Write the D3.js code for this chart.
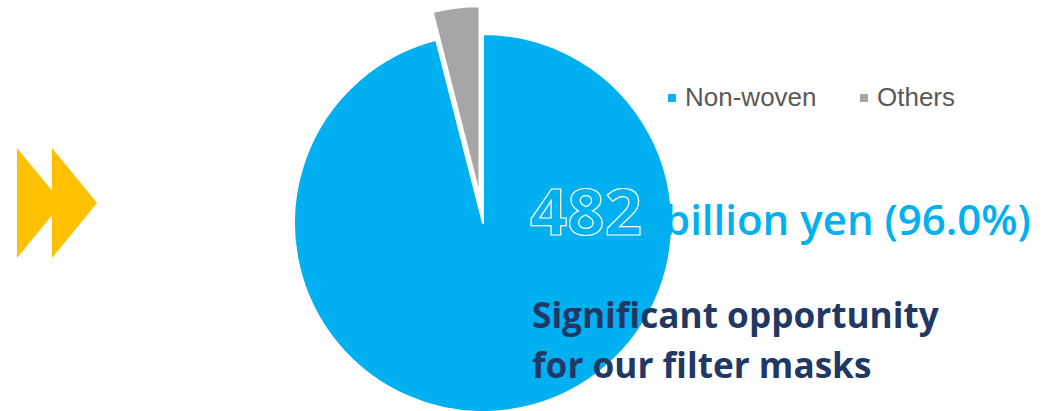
<!DOCTYPE html>
<html>
<head>
<meta charset="utf-8">
<script src="https://cdn.jsdelivr.net/npm/d3@7"></script>
<style>
  html, body { margin: 0; padding: 0; background: #fff; }
  svg { display: block; }
</style>
</head>
<body>
<div id="chart"></div>
<script>
// данные
const categories = ["Non-woven", "Others"];
const values = [482, 20]; // billion yen
const colors = ["#00B0F0", "#A6A6A6"];
const explode = [0, 28];

const width = 1043, height = 411;
const cx = 483, cy = 223, radius = 189;

const svg = d3.select("#chart").append("svg")
    .attr("width", width)
    .attr("height", height);

// жёлтая двойная стрелка слева
const arrow = svg.append("g").attr("fill", "#FFC000");
[17, 52].forEach(x0 => {
    arrow.append("path")
        .attr("d", `M${x0},148 L${x0 + 45},203 L${x0},258 Z`);
});

// пирог
const pie = d3.pie().sort(null).startAngle(0).endAngle(2 * Math.PI);
const arcs = pie(values);
const arc = d3.arc().innerRadius(0).outerRadius(radius);

const g = svg.append("g").attr("transform", `translate(${cx},${cy})`);
g.selectAll("path.slice")
    .data(arcs)
    .enter()
    .append("path")
    .attr("class", "slice")
    .attr("d", arc)
    .attr("fill", (d, i) => colors[i])
    .attr("stroke", "#fff")
    .attr("stroke-width", 2)
    .attr("stroke-linejoin", "round")
    .attr("transform", (d, i) => {
        const a = (d.startAngle + d.endAngle) / 2;
        return `translate(${Math.sin(a) * explode[i]},${-Math.cos(a) * explode[i]})`;
    });

// легенда
const legend = svg.append("g").attr("font-family", "'Liberation Sans', Arial, sans-serif");
const legendX = [668, 860];
categories.forEach((c, i) => {
    legend.append("rect")
        .attr("x", legendX[i]).attr("y", 94)
        .attr("width", 8).attr("height", 8)
        .attr("fill", colors[i]);
    legend.append("text")
        .attr("x", legendX[i] + 17).attr("y", 106)
        .attr("font-size", 26)
        .attr("fill", "#595959")
        .text(c);
});

// подписи
const total = d3.sum(values);
const share = (values[0] / total * 100).toFixed(1);

const label = svg.append("g").attr("font-family", "'Open Sans', 'Noto Sans', sans-serif");
label.append("text")
    .attr("x", 530).attr("y", 235)
    .attr("font-size", 64)
    .attr("font-weight", 700)
    .attr("fill", colors[0])
    .attr("stroke", "#fff")
    .attr("stroke-width", 1.2)
    .attr("textLength", 112)
    .attr("lengthAdjust", "spacingAndGlyphs")
    .text(values[0]);
label.append("text")
    .attr("x", 664).attr("y", 235)
    .attr("font-size", 42)
    .attr("font-weight", 600)
    .attr("fill", colors[0])
    .text(`billion yen (${share}%)`);

const lines = ["Significant opportunity", "for our filter masks"];
label.selectAll("text.msg")
    .data(lines)
    .enter()
    .append("text")
    .attr("class", "msg")
    .attr("x", 532)
    .attr("y", (d, i) => 328 + i * 50)
    .attr("font-size", 35.2)
    .attr("font-weight", 700)
    .attr("fill", "#1F3864")
    .text(d => d);
</script>
</body>
</html>
